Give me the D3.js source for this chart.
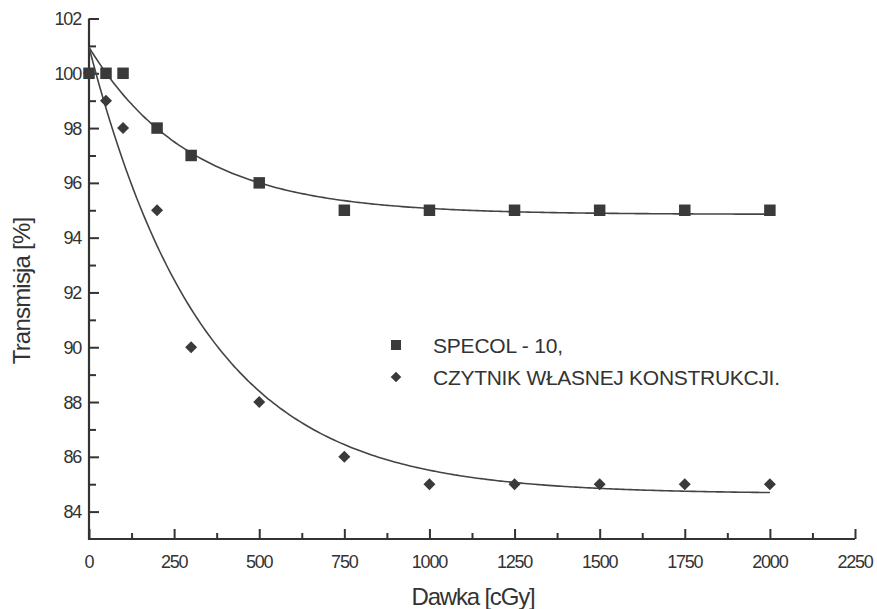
<!DOCTYPE html>
<html>
<head>
<meta charset="utf-8">
<script src="https://cdn.jsdelivr.net/npm/d3@7"></script>
<style>
  body { margin: 0; background: #fff; }
  text { font-family: "Liberation Sans", Arial, sans-serif; fill: #333; }
</style>
</head>
<body>
<svg id="chart" width="877" height="609"></svg>
<script>
// dose values [cGy]
var doses = [0, 50, 100, 200, 300, 500, 750, 1000, 1250, 1500, 1750, 2000];
// transmission readings [%]
var specol = [100, 100, 100, 98, 97, 96, 95, 95, 95, 95, 95, 95];
var czytnik = [100, 99, 98, 95, 90, 88, 86, 85, 85, 85, 85, 85];
// exponential fit: [plateau, amplitude, decay]
var specolFit = [94.85, 6.1, 300];
var czytnikFit = [84.65, 16.3, 340];
var xTicks = [0, 250, 500, 750, 1000, 1250, 1500, 1750, 2000, 2250];
var yTicks = [84, 86, 88, 90, 92, 94, 96, 98, 100, 102];
var legendLabels = ["SPECOL - 10,", "CZYTNIK WŁASNEJ KONSTRUKCJI."];

var svg = d3.select("#chart");
var col = "#333";

var x = d3.scaleLinear().domain([0, 2250]).range([89, 855]);
var y = d3.scaleLinear().domain([83, 102]).range([539, 18.5]);

// axes: ticks point inward
var xAxis = d3.axisTop(x).tickValues(d3.range(0, 2251, 125))
  .tickSize(0).tickFormat("");
var gx = svg.append("g").attr("transform", "translate(0," + y(83) + ")").call(xAxis);
gx.selectAll(".tick line")
  .attr("y2", function (d) { return d % 250 == 0 ? -10 : -6; });
var gy = svg.append("g").attr("transform", "translate(" + x(0) + ",0)")
  .call(d3.axisRight(y).tickValues(d3.range(84, 103, 1)).tickSize(0).tickFormat(""));
gy.selectAll(".tick line")
  .attr("x2", function (d) { return d % 2 == 0 ? 10 : 7; });
svg.selectAll(".domain").remove();
svg.selectAll(".tick line").attr("stroke", col).attr("stroke-width", 2);

svg.append("path")
  .attr("d", "M" + x(0) + "," + y(102) + "V" + y(83) + "H" + x(2250))
  .attr("fill", "none").attr("stroke", col).attr("stroke-width", 2.2);

// tick labels
svg.selectAll(".xl").data(xTicks).enter().append("text")
  .attr("x", function (d) { return x(d); }).attr("y", 568)
  .attr("text-anchor", "middle").attr("font-size", 18).attr("letter-spacing", -1.2)
  .text(function (d) { return d; });
svg.selectAll(".yl").data(yTicks).enter().append("text")
  .attr("x", 81).attr("y", function (d) { return y(d) + 6.5; })
  .attr("text-anchor", "end").attr("font-size", 18).attr("letter-spacing", -1.2)
  .text(function (d) { return d; });

// axis titles
svg.append("text").attr("x", 473).attr("y", 605).attr("text-anchor", "middle")
  .attr("font-size", 24).attr("letter-spacing", -1.2).text("Dawka [cGy]");
svg.append("text").attr("transform", "translate(30,291) rotate(-90)")
  .attr("text-anchor", "middle").attr("font-size", 24).attr("letter-spacing", -0.8)
  .text("Transmisja [%]");

// fitted curves
var line = d3.line().x(function (d) { return x(d[0]); }).y(function (d) { return y(d[1]); })
  .curve(d3.curveBasis);
function fitPoints(f) {
  return d3.range(0, 2001, 10).map(function (v) {
    return [v, f[0] + f[1] * Math.exp(-v / f[2])];
  });
}
[specolFit, czytnikFit].forEach(function (f) {
  svg.append("path").datum(fitPoints(f)).attr("d", line)
    .attr("fill", "none").attr("stroke", "#444").attr("stroke-width", 1.6);
});

// markers
var sq = d3.symbol().type(d3.symbolSquare).size(132);
var dm = d3.symbol().type(d3.symbolSquare).size(72);
svg.selectAll(".sp").data(doses).enter().append("path")
  .attr("d", sq)
  .attr("transform", function (d, i) { return "translate(" + x(d) + "," + y(specol[i]) + ")"; })
  .attr("fill", "#3a3a3a");
svg.selectAll(".cz").data(doses).enter().append("path")
  .attr("d", dm)
  .attr("transform", function (d, i) { return "translate(" + x(d) + "," + y(czytnik[i]) + ") rotate(45)"; })
  .attr("fill", "#3a3a3a");

// legend
var leg = svg.append("g");
leg.append("path").attr("d", d3.symbol().type(d3.symbolSquare).size(100))
  .attr("transform", "translate(396,345)").attr("fill", "#3a3a3a");
leg.append("path").attr("d", d3.symbol().type(d3.symbolSquare).size(56))
  .attr("transform", "translate(396,377) rotate(45)").attr("fill", "#3a3a3a");
leg.selectAll(".lt").data(legendLabels).enter().append("text")
  .attr("x", 433).attr("y", function (d, i) { return 353 + i * 32; })
  .attr("font-size", 21).attr("textLength", function (d, i) { return i ? 347 : 130; })
  .attr("lengthAdjust", "spacing")
  .text(function (d) { return d; });
</script>
</body>
</html>
